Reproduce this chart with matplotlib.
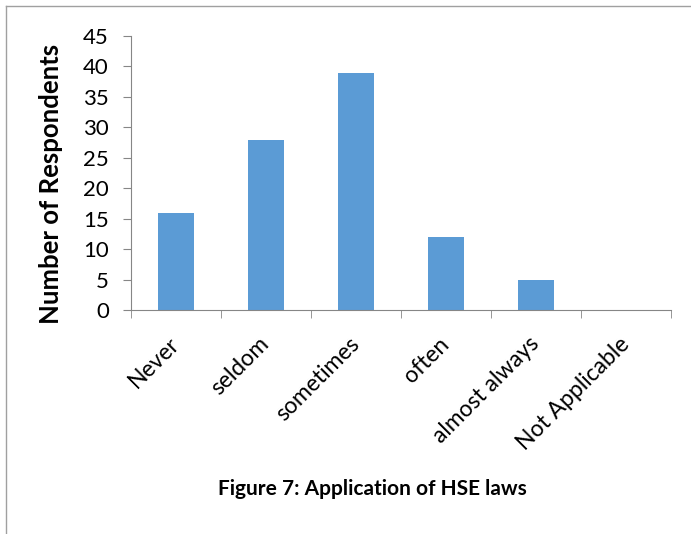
import numpy as np
import matplotlib.pyplot as plt
from matplotlib.lines import Line2D

# survey answers
categories = ["Never", "seldom", "sometimes", "often", "almost always", "Not Applicable"]
counts = [16, 28, 39, 12, 5, 0]
yticks = list(range(0, 50, 5))

plt.rcParams['font.family'] = ['Lato', 'DejaVu Sans']

fig = plt.figure(figsize=(6.91, 5.34), dpi=100)
W, H = 691, 534
ax = fig.add_axes([131 / W, (H - 310) / H, 540 / W, 274 / H])

x = np.arange(len(categories))
ax.bar(x, counts, width=0.4, color='#5B9BD5')

ax.set_xlim(-0.5, len(categories) - 0.5)
ax.set_ylim(0, 45)
ax.set_yticks(yticks)
ax.tick_params(axis='y', labelsize=16, length=6, color='#868686', pad=10)

ax.set_xticks(x)
ax.set_xticklabels(categories, rotation=45, ha='right', va='center',
                   rotation_mode='anchor', fontsize=16.5)
ax.tick_params(axis='x', which='major', length=0, pad=22)
ax.set_xticks(np.arange(-0.5, len(categories)), minor=True)
ax.tick_params(axis='x', which='minor', length=6, color='#868686')

for s in ['top', 'right']:
    ax.spines[s].set_visible(False)
for s in ['left', 'bottom']:
    ax.spines[s].set_color('#868686')

ax.set_ylabel("Number of Respondents", fontsize=18.5, fontweight='bold')
ax.yaxis.set_label_coords(-0.126, 0.46)

fig.text(372 / W, 1 - 495 / H, "Figure 7: Application of HSE laws",
         fontsize=15, fontweight='bold', ha='center', va='baseline')

# frame lines at top and left of the picture
fig.add_artist(Line2D([6 / W, 1], [1 - 6 / H, 1 - 6 / H], color='#a0a0a0', lw=1))
fig.add_artist(Line2D([6 / W, 6 / W], [0, 1 - 6 / H], color='#a0a0a0', lw=1))

fig.savefig("out.png", dpi=100)
